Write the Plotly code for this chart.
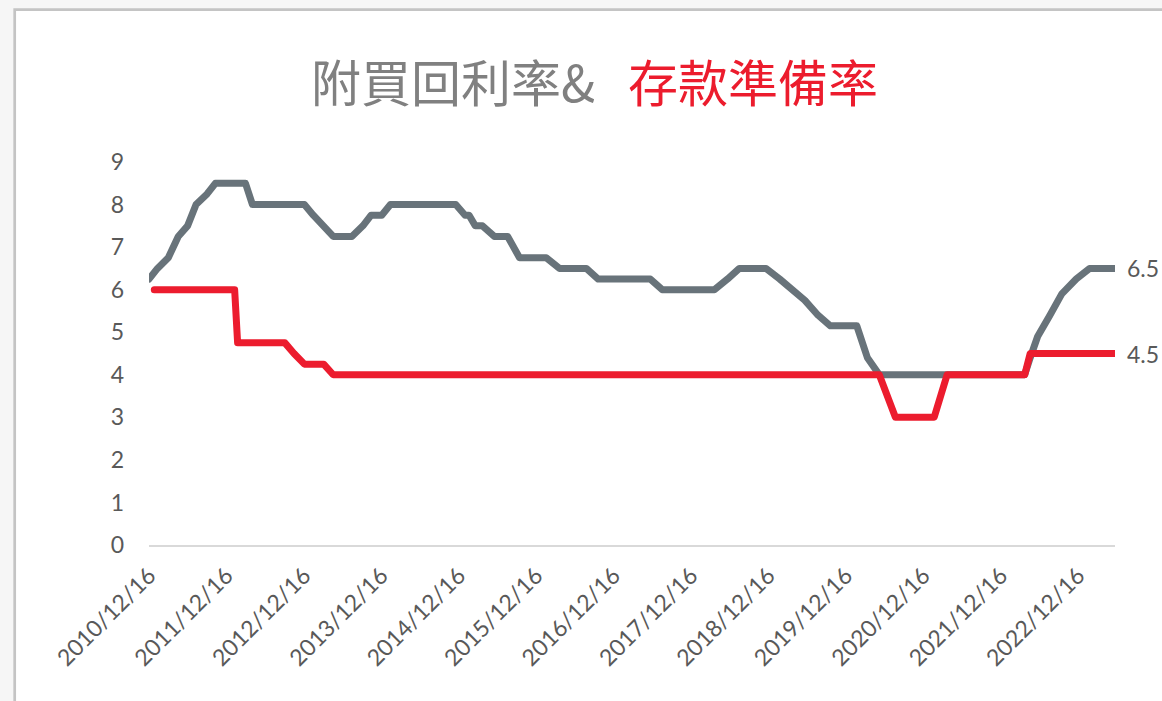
import plotly.graph_objects as go

# ---------------- data ----------------
repo_dates = [
    "2010-12-16", "2011-01-25", "2011-03-17", "2011-05-03", "2011-06-16", "2011-07-26",
    "2011-09-16", "2011-10-25", "2011-12-16", "2012-01-24", "2012-03-15", "2012-04-17",
    "2012-06-18", "2012-07-31", "2012-09-17", "2012-10-30", "2012-12-18", "2013-01-29",
    "2013-03-19", "2013-05-03", "2013-06-17", "2013-07-30", "2013-09-20", "2013-10-29",
    "2013-12-18", "2014-01-28", "2014-04-01", "2014-06-03", "2014-08-05", "2014-09-30",
    "2014-12-02", "2015-01-15", "2015-02-03", "2015-03-04", "2015-04-07", "2015-06-02",
    "2015-08-04", "2015-09-29", "2015-12-01", "2016-02-02", "2016-04-05", "2016-06-07",
    "2016-08-09", "2016-10-04", "2016-12-07", "2017-02-08", "2017-04-06", "2017-06-07",
    "2017-08-02", "2017-10-04", "2017-12-06", "2018-02-07", "2018-04-05", "2018-06-06",
    "2018-08-01", "2018-10-05", "2018-12-05", "2019-02-07", "2019-04-04", "2019-06-06",
    "2019-08-07", "2019-10-04", "2019-12-05", "2020-02-06", "2020-03-27", "2020-05-22",
    "2020-08-06", "2020-10-09", "2020-12-04", "2021-02-05", "2021-04-07", "2021-06-04",
    "2021-08-06", "2021-10-08", "2021-12-08", "2022-02-10", "2022-04-08", "2022-05-04",
    "2022-06-08", "2022-08-05", "2022-09-30", "2022-12-07", "2023-02-08", "2023-04-06",
    "2023-06-08",
]
repo_rate = [
    6.25, 6.50, 6.75, 7.25, 7.50, 8.00,
    8.25, 8.50, 8.50, 8.50, 8.50, 8.00,
    8.00, 8.00, 8.00, 8.00, 8.00, 7.75,
    7.50, 7.25, 7.25, 7.25, 7.50, 7.75,
    7.75, 8.00, 8.00, 8.00, 8.00, 8.00,
    8.00, 7.75, 7.75, 7.50, 7.50, 7.25,
    7.25, 6.75, 6.75, 6.75, 6.50, 6.50,
    6.50, 6.25, 6.25, 6.25, 6.25, 6.25,
    6.00, 6.00, 6.00, 6.00, 6.00, 6.25,
    6.50, 6.50, 6.50, 6.25, 6.00, 5.75,
    5.40, 5.15, 5.15, 5.15, 4.40, 4.00,
    4.00, 4.00, 4.00, 4.00, 4.00, 4.00,
    4.00, 4.00, 4.00, 4.00, 4.00, 4.40,
    4.90, 5.40, 5.90, 6.25, 6.50, 6.50,
    6.50,
]

crr_dates = [
    "2011-01-10", "2012-01-24", "2012-02-07", "2012-09-17", "2012-10-30", "2012-12-18",
    "2013-03-19", "2013-05-03", "2020-05-22", "2020-08-06", "2021-02-05", "2021-04-07",
    "2022-04-08", "2022-05-04", "2023-06-08",
]
crr_rate = [
    6.00, 6.00, 4.75, 4.75, 4.50, 4.25,
    4.25, 4.00, 4.00, 3.00, 3.00, 4.00,
    4.00, 4.50, 4.50,
]

x_tick_dates = [
    "2010-12-16", "2011-12-16", "2012-12-16", "2013-12-16", "2014-12-16", "2015-12-16",
    "2016-12-16", "2017-12-16", "2018-12-16", "2019-12-16", "2020-12-16", "2021-12-16",
    "2022-12-16",
]
x_tick_labels = [
    "2010/12/16", "2011/12/16", "2012/12/16", "2013/12/16", "2014/12/16", "2015/12/16",
    "2016/12/16", "2017/12/16", "2018/12/16", "2019/12/16", "2020/12/16", "2021/12/16",
    "2022/12/16",
]
y_ticks = [0, 1, 2, 3, 4, 5, 6, 7, 8, 9]

title_gray = "附買回利率&"
title_red = "存款準備率"

# ---------------- styling ----------------
W, H = 1162, 701
L, R, T, B = 149, 47, 162, 156
PW, PH = W - L - R, H - T - B

GRAY_LINE = "#68737A"
RED_LINE = "#EC1C2E"
TEXT = "#595959"
TICK_FONT = dict(family="Lato, 'Noto Sans', sans-serif", size=23, color=TEXT)
TITLE_FAMILY = "'Noto Sans CJK TC', 'Noto Sans CJK SC', sans-serif"


def px_x(px):
    return (px - L) / PW


def px_y(py):
    return (H - B - py) / PH


fig = go.Figure()
fig.add_trace(go.Scatter(
    x=repo_dates, y=repo_rate, mode="lines", name="附買回利率",
    line=dict(color=GRAY_LINE, width=7), hoverinfo="x+y",
))
fig.add_trace(go.Scatter(
    x=crr_dates, y=crr_rate, mode="lines", name="存款準備率",
    line=dict(color=RED_LINE, width=7), hoverinfo="x+y",
))

annotations = [
    dict(text=title_gray, xref="paper", yref="paper", x=px_x(453), y=px_y(80),
         xanchor="center", yanchor="middle", showarrow=False,
         font=dict(family=TITLE_FAMILY, size=50, color="#808080")),
    dict(text=title_red, xref="paper", yref="paper", x=px_x(753), y=px_y(80),
         xanchor="center", yanchor="middle", showarrow=False,
         font=dict(family=TITLE_FAMILY, size=50, color="#EC1C2D")),
    dict(text=f"{repo_rate[-1]:g}", x=repo_dates[-1], y=repo_rate[-1], xref="x", yref="y",
         xanchor="left", yanchor="middle", xshift=10, showarrow=False, font=TICK_FONT),
    dict(text=f"{crr_rate[-1]:g}", x=crr_dates[-1], y=crr_rate[-1], xref="x", yref="y",
         xanchor="left", yanchor="middle", xshift=10, showarrow=False, font=TICK_FONT),
]

shapes = [
    dict(type="rect", xref="paper", yref="paper", layer="below",
         x0=px_x(14.7), x1=px_x(W + 20), y0=px_y(H + 20), y1=px_y(9.7),
         fillcolor="white", line=dict(color="#C4C4C4", width=2.7)),
]

fig.update_layout(
    width=W, height=H,
    margin=dict(l=L, r=R, t=T, b=B, pad=0),
    paper_bgcolor="#F6F6F6",
    plot_bgcolor="white",
    showlegend=False,
    annotations=annotations,
    shapes=shapes,
    xaxis=dict(
        type="date",
        range=[repo_dates[0], repo_dates[-1]],
        tickvals=x_tick_dates, ticktext=x_tick_labels,
        tickangle=-45, tickfont=TICK_FONT,
        showgrid=False, zeroline=False,
        showline=True, linecolor="#D9D9D9", linewidth=2,
        ticks="", ticklabelstandoff=6,
        automargin=False, fixedrange=True,
    ),
    yaxis=dict(
        range=[0, 9], tickvals=y_ticks, ticktext=[str(v) for v in y_ticks],
        tickfont=TICK_FONT, showgrid=False, zeroline=False, showline=False,
        ticks="", ticklabelstandoff=24, automargin=False, fixedrange=True,
    ),
)

post = """
document.documentElement.style.margin = '0';
document.body.style.margin = '0';
document.body.style.padding = '0';
document.body.style.overflow = 'hidden';
document.querySelectorAll('.scatterlayer .js-line').forEach(function(p){
  p.style.strokeLinejoin = 'round';
  p.style.strokeLinecap = 'round';
});
"""

fig.write_html("out.html", post_script=post, config={"displayModeBar": False})
